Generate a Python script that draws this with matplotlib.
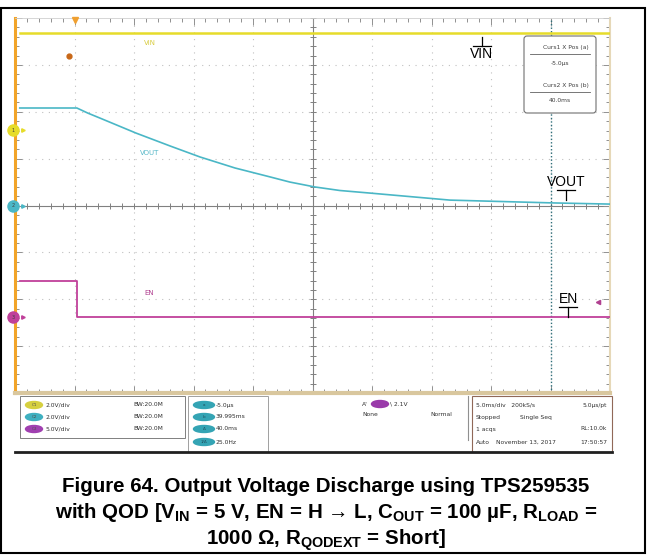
import numpy as np
import matplotlib.pyplot as plt
from matplotlib import font_manager
from matplotlib.patches import FancyBboxPatch, Rectangle, Ellipse
import matplotlib.transforms as mtransforms

# caption font: narrow Arial-like if present, otherwise Liberation Sans
names = {f.name for f in font_manager.fontManager.ttflist}
if 'Liberation Sans Narrow' in names:
    cap_font, cap_size = 'Liberation Sans Narrow', 16.5
else:
    cap_font, cap_size = 'Liberation Sans', 14.8
plt.rcParams['mathtext.fontset'] = 'custom'
plt.rcParams['mathtext.rm'] = cap_font + ':bold'
plt.rcParams['mathtext.it'] = cap_font + ':bold'
plt.rcParams['mathtext.bf'] = cap_font + ':bold'

# scope settings: 5 ms/div, trigger one division from the left edge
t_min, t_max = -5.0, 45.0
cursor_a, cursor_b = 0.0, 40.0

# channel volts/div and ground offset (in divisions)
ch_scale = {'VIN': 2.0, 'VOUT': 2.0, 'EN': 5.0}
ch_offset = {'VIN': 1.61, 'VOUT': 0.0, 'EN': -2.38}

# traces (time in ms, volts)
vin_t = [-4.6, 45.0]
vin_v = [4.14, 4.14]
vout_t = [-4.6, 0.2, 1.13, 2.14, 5.17, 8.03, 10.55, 13.49, 16.43, 18.1, 20.21, 22.3, 24.83, 31.55, 40.21, 45.0]
vout_v = [4.16, 4.16, 3.94, 3.73, 3.09, 2.54, 2.07, 1.60, 1.22, 1.00, 0.79, 0.64, 0.53, 0.23, 0.11, 0.06]
en_t = [-4.6, 0.2, 0.2, 45.0]
en_v = [3.84, 3.84, 0.0, 0.0]

colors = {'VIN': '#e6dc2a', 'VOUT': '#4ab7c6', 'EN': '#c0409a'}

fig = plt.figure(figsize=(6.53, 5.55), dpi=100)
ax = fig.add_axes([15 / 653, 1 - 393 / 555, 595 / 653, 375 / 555])
ax.set_xlim(t_min, t_max)
ax.set_ylim(-4, 4)

def to_div(v, ch):
    return np.asarray(v) / ch_scale[ch] + ch_offset[ch]

# graticule
for x in np.arange(t_min + 5, t_max, 5):
    if x != 20:
        ax.axvline(x, color='#c0c0c0', lw=0.8, ls=(0, (1, 5)), zorder=1)
for y in range(-3, 4):
    if y != 0:
        ax.axhline(y, color='#c0c0c0', lw=0.8, ls=(0, (1, 5)), zorder=1)
ax.axvline(20, color='#808080', lw=0.8, zorder=1)
ax.axhline(0, color='#808080', lw=0.8, zorder=1)
mt = np.arange(t_min, t_max + 0.01, 1.0)
ax.plot(mt, np.zeros_like(mt), '|', color='#808080', ms=4, mew=0.7, zorder=1)
my = np.arange(-4, 4.01, 0.2)
ax.plot(np.full_like(my, 20), my, '_', color='#808080', ms=4, mew=0.7, zorder=1)

ax.set_xticks(np.arange(t_min, t_max + 0.1, 5))
ax.set_xticks(mt, minor=True)
ax.set_yticks(range(-4, 5))
ax.set_yticks(my, minor=True)
ax.tick_params(which='both', direction='in', top=True, right=True, bottom=True, left=True,
               labelbottom=False, labelleft=False, color='#909090', width=0.7)
ax.tick_params(which='major', length=5)
ax.tick_params(which='minor', length=3)
ax.spines['left'].set_color('#f2a428')
ax.spines['left'].set_linewidth(2.2)
ax.spines['bottom'].set_color('#d9c79e')
ax.spines['bottom'].set_linewidth(3)
ax.spines['right'].set_color('#e6d8b8')
ax.spines['right'].set_linewidth(1.5)
ax.spines['top'].set_color('#d0d0d0')
ax.spines['top'].set_linewidth(0.6)

# cursor b
ax.axvline(cursor_b, color='#2f6f7a', lw=1.0, ls=(0, (1, 1.5)), zorder=2)

# traces
ax.plot(vin_t, to_div(vin_v, 'VIN'), color=colors['VIN'], lw=1.8, zorder=3)
ax.plot(vout_t, to_div(vout_v, 'VOUT'), color=colors['VOUT'], lw=1.2, zorder=3)
ax.plot(en_t, to_div(en_v, 'EN'), color=colors['EN'], lw=1.3, zorder=3)

# faint on-screen labels
ax.text(6.3, 3.46, 'VIN', color='#d8cc40', fontsize=5, ha='center', va='center')
ax.text(6.3, 1.12, 'VOUT', color='#58b8c8', fontsize=5, ha='center', va='center')
ax.text(6.3, -1.87, 'EN', color='#b04090', fontsize=5, ha='center', va='center')

# trigger marker and cursor a dot
ax.plot(cursor_a, 3.95, 'v', color='#f0a030', ms=5, clip_on=False, zorder=5)
ax.plot(-0.5, 3.2, 'o', color='#c86818', ms=3.5, zorder=5)

# channel markers on the left edge
btrans = mtransforms.blended_transform_factory(ax.transAxes, ax.transData)
for ch, lab in [('VIN', '1'), ('VOUT', '2'), ('EN', '3')]:
    ax.plot(-0.003, ch_offset[ch], 'o', color=colors[ch], ms=8, transform=btrans, clip_on=False, zorder=6)
    ax.text(-0.003, ch_offset[ch], lab, color='#404040', fontsize=3.5, ha='center', va='center',
            transform=btrans, zorder=7, clip_on=False)
    ax.plot(0.013, ch_offset[ch], '>', color=colors[ch], ms=2.5, transform=btrans, clip_on=False, zorder=6)
# trigger level arrow on the right
ax.plot(0.98, -2.05, '<', color='#b04090', ms=3, transform=btrans, clip_on=False)

# overlay in pixel coordinates for the frame, readouts and caption
ov = fig.add_axes([0, 0, 1, 1])
ov.set_xlim(0, 653)
ov.set_ylim(555, 0)
ov.axis('off')

ov.add_patch(Rectangle((0.5, 8), 644.5, 545, fill=False, ec='black', lw=1.5))

# ground-symbol annotations
def gnd_label(x, y, text, above):
    if above:
        ov.text(x, y, text, fontsize=10, ha='center', va='bottom', family='Liberation Sans')
        ov.plot([x - 9, x + 9], [y + 1, y + 1], color='black', lw=0.9)
        ov.plot([x, x], [y + 1, y + 11], color='black', lw=0.9)
    else:
        ov.plot([x - 9, x + 9], [y, y], color='black', lw=0.9)
        ov.plot([x, x], [y - 9, y], color='black', lw=0.9)
        ov.text(x, y + 1, text, fontsize=10, ha='center', va='top', family='Liberation Sans')

gnd_label(482, 46, 'VIN', False)
gnd_label(566, 189, 'VOUT', True)
gnd_label(568, 306, 'EN', True)

# cursor readout box
ov.add_patch(FancyBboxPatch((524, 36), 72, 77, boxstyle='round,pad=0,rounding_size=3',
                            fc='white', ec='#707070', lw=0.8, zorder=5))
ov.text(589, 47, 'Curs1 X Pos (a)', fontsize=4.3, ha='right', va='center', color='#404040', zorder=6)
ov.plot([530, 590], [54, 54], color='#606060', lw=0.6, zorder=6)
ov.text(560, 63, '-5.0µs', fontsize=4.3, ha='center', va='center', color='#404040', zorder=6)
ov.text(589, 85, 'Curs2 X Pos (b)', fontsize=4.3, ha='right', va='center', color='#404040', zorder=6)
ov.plot([530, 590], [92, 92], color='#606060', lw=0.6, zorder=6)
ov.text(560, 100, '40.0ms', fontsize=4.3, ha='center', va='center', color='#404040', zorder=6)

# readout panel
ov.plot([15, 612], [452, 452], color='#202020', lw=2)
ov.add_patch(Rectangle((20, 396), 165, 42, fill=False, ec='#808080', lw=0.7))
ov.add_patch(Rectangle((188, 396), 80, 56, fill=False, ec='#a0a0a0', lw=0.7))
ov.plot([468, 468], [396, 440], color='#909090', lw=0.8)
ov.add_patch(Rectangle((472, 396), 140, 56, fill=False, ec='#906858', lw=0.8))

rows = [405, 417, 429, 442]
small = dict(fontsize=4.3, va='center', color='#303030')
ch_rows = [('#d6d040', 'C1', '2.0V/div'), ('#3fb0c0', 'C2', '2.0V/div'), ('#a040b0', 'C3', '5.0V/div')]
for y, (c, lab, txt) in zip(rows, ch_rows):
    ov.add_patch(Ellipse((34, y), 17, 7, color=c))
    ov.text(34, y, lab, fontsize=3, ha='center', va='center', color='#505050')
    ov.text(45, y, txt, **small)
    ov.text(133, y, 'BW:20.0M', **small)
for y, (lab, txt) in zip(rows, [('a', '-5.0µs'), ('b', '39.995ms'), ('Δ', '40.0ms'), ('1/Δ', '25.0Hz')]):
    ov.add_patch(Ellipse((204, y), 21, 7, color='#34a4b4'))
    ov.text(204, y, lab, fontsize=3, ha='center', va='center', color='#205060')
    ov.text(216, y, txt, **small)
ov.text(362, 404, "A'", **small)
ov.add_patch(Ellipse((380, 404), 17, 7, color='#9a3aaa'))
ov.text(390, 404, '\\ 2.1V', **small)
ov.text(362, 414, 'None', **small)
ov.text(430, 414, 'Normal', **small)
ov.text(476, rows[0], '5.0ms/div   200kS/s', **small)
ov.text(607, rows[0], '5.0µs/pt', ha='right', **small)
ov.text(476, rows[1], 'Stopped', **small)
ov.text(520, rows[1], 'Single Seq', **small)
ov.text(476, rows[2], '1 acqs', **small)
ov.text(607, rows[2], 'RL:10.0k', ha='right', **small)
ov.text(476, rows[3], 'Auto', **small)
ov.text(496, rows[3], 'November 13, 2017', **small)
ov.text(607, rows[3], '17:50:57', ha='right', **small)

# caption
cap = dict(fontsize=cap_size, ha='center', va='center', fontweight='bold',
           family=[cap_font, 'DejaVu Sans'])
ov.text(326, 487, 'Figure 64. Output Voltage Discharge using TPS259535', **cap)
ov.text(326, 513, 'with QOD [V$_{IN}$ = 5 V, EN = H → L, C$_{OUT}$ = 100 µF, R$_{LOAD}$ =', **cap)
ov.text(326, 540, '1000 Ω, R$_{QODEXT}$ = Short]', **cap)

fig.savefig('out.png', dpi=100)
